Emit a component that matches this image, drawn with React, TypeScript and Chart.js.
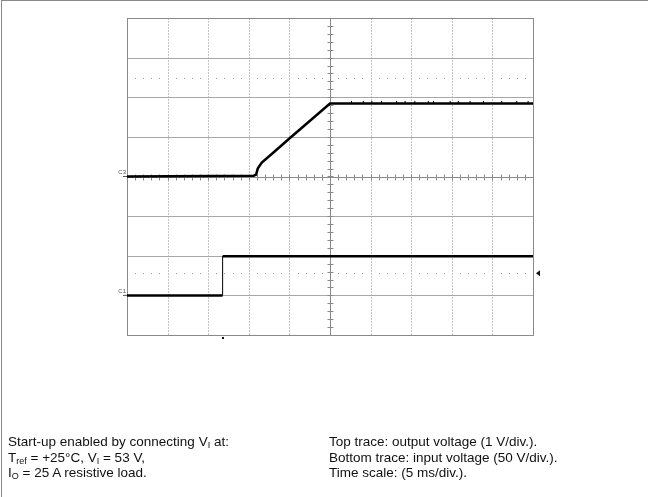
import React, { useEffect, useRef } from "react";
import { Chart, registerables } from "chart.js";

Chart.register(...registerables);

// Time axis in divisions (5 ms/div), vertical axis in divisions
const X_DIVS = 10;
const Y_DIVS = 8;

// Top trace (C3): output voltage, 1 V/div
const topTime = [0, 3.12, 3.18, 3.22, 3.32, 3.6, 4.0, 4.5, 5.0, 10];
const topLevel = [4.0, 4.02, 4.05, 4.2, 4.35, 4.6, 4.96, 5.4, 5.84, 5.84];

// Small noise spikes above the settled output level
const spikeTime = [5.53, 5.82, 6.03, 6.27, 6.64, 6.85, 7.09, 7.42, 7.55, 7.96, 8.16, 8.45, 8.78, 9.23, 9.6, 9.88];
const spikeLevel = 5.87;

// Bottom trace (C1): input voltage, 50 V/div
const bottomTime = [0, 2.355, 2.355, 10];
const bottomLevel = [1.0, 1.0, 1.99, 1.99];

// Dotted reference levels and markers
const refLevels = [6.48, 1.56];
const triggerLevel = 1.56;
const triggerTime = 2.355;
const channelLabels = [
  { name: "C3", level: 4.0 },
  { name: "C1", level: 1.0 },
];

const leftNotes = [
  ["Start-up enabled by connecting V", "I", " at:"],
  ["T", "ref", " = +25°C, V", "I", " = 53 V,"],
  ["I", "O", " = 25 A resistive load."],
];
const rightNotes = [
  "Top trace: output voltage (1 V/div.).",
  "Bottom trace: input voltage (50 V/div.).",
  "Time scale: (5 ms/div.).",
];

const scopePlugin = {
  id: "scopeGrid",
  beforeDatasetsDraw(chart: any) {
    const { ctx, chartArea: a, scales } = chart;
    const xs = scales.x;
    const ys = scales.y;
    const px = (v: number) => Math.round(xs.getPixelForValue(v)) + 0.5;
    const py = (v: number) => Math.round(ys.getPixelForValue(v)) + 0.5;
    ctx.save();
    ctx.lineWidth = 1;
    // vertical grid lines (dotted)
    ctx.strokeStyle = "#c4c4c4";
    ctx.setLineDash([2, 1]);
    for (let i = 1; i < X_DIVS; i++) {
      if (i === X_DIVS / 2) continue;
      ctx.beginPath();
      ctx.moveTo(px(i), a.top);
      ctx.lineTo(px(i), a.bottom);
      ctx.stroke();
    }
    ctx.setLineDash([]);
    // horizontal grid lines (solid)
    ctx.strokeStyle = "#a8a8a8";
    for (let i = 1; i < Y_DIVS; i++) {
      if (i === Y_DIVS / 2) continue;
      ctx.beginPath();
      ctx.moveTo(a.left, py(i));
      ctx.lineTo(a.right, py(i));
      ctx.stroke();
    }
    // dotted reference levels
    ctx.fillStyle = "#9a9a9a";
    for (const lv of refLevels) {
      const y = Math.round(ys.getPixelForValue(lv));
      for (let t = 0.2; t < X_DIVS; t += 0.2) {
        if (Math.abs(t - Math.round(t)) < 0.01) continue;
        const x = Math.round(xs.getPixelForValue(t));
        ctx.fillRect(x, y, 1, 1);
      }
    }
    // center axes with minor ticks
    ctx.strokeStyle = "#8a8a8a";
    const cx = px(X_DIVS / 2);
    const cy = py(Y_DIVS / 2);
    ctx.beginPath();
    ctx.moveTo(cx, a.top);
    ctx.lineTo(cx, a.bottom);
    ctx.moveTo(a.left, cy);
    ctx.lineTo(a.right, cy);
    for (let t = 0.2; t < Y_DIVS; t += 0.2) {
      const y = py(t);
      ctx.moveTo(cx - 3, y);
      ctx.lineTo(cx + 3, y);
    }
    for (let t = 0.2; t < X_DIVS; t += 0.2) {
      const x = px(t);
      ctx.moveTo(x, cy - 3);
      ctx.lineTo(x, cy + 3);
    }
    ctx.stroke();
    // frame
    ctx.strokeStyle = "#8a8a8a";
    ctx.strokeRect(Math.round(a.left) + 0.5, Math.round(a.top) + 0.5, Math.round(a.right - a.left), Math.round(a.bottom - a.top));
    // trigger level arrow
    ctx.fillStyle = "#111";
    const ty = ys.getPixelForValue(triggerLevel);
    ctx.beginPath();
    ctx.moveTo(a.right + 3, ty);
    ctx.lineTo(a.right + 7, ty - 3);
    ctx.lineTo(a.right + 7, ty + 3);
    ctx.closePath();
    ctx.fill();
    // trigger position marker
    const tx = Math.round(xs.getPixelForValue(triggerTime));
    ctx.fillRect(tx - 1, a.bottom + 2, 2, 2);
    // channel labels
    ctx.fillStyle = "#555";
    ctx.font = "6px 'Liberation Sans', Arial, sans-serif";
    ctx.textAlign = "right";
    ctx.textBaseline = "bottom";
    for (const c of channelLabels) {
      const y = ys.getPixelForValue(c.level);
      ctx.fillText(c.name, a.left - 1, y - 1);
      ctx.fillRect(a.left - 4, y - 0.5, 4, 1);
    }
    ctx.restore();
  },
};

export default function App() {
  const ref = useRef<HTMLCanvasElement>(null);
  useEffect(() => {
    if (!ref.current) return;
    const thinVertical = {
      borderWidth: (c: any) => (Math.abs(c.p0.parsed.x - c.p1.parsed.x) < 1e-6 ? 1 : undefined),
    };
    const chart = new Chart(ref.current, {
      type: "line",
      data: {
        datasets: [
          {
            data: topTime.map((t, i) => ({ x: t, y: topLevel[i] })),
            borderColor: "#000",
            borderWidth: 2.5,
            pointRadius: 0,
            tension: 0,
          },
          {
            data: bottomTime.map((t, i) => ({ x: t, y: bottomLevel[i] })),
            borderColor: "#000",
            borderWidth: 2.5,
            pointRadius: 0,
            tension: 0,
            segment: thinVertical,
          } as any,
          {
            data: spikeTime.map((t) => ({ x: t, y: spikeLevel })),
            showLine: false,
            pointStyle: "line",
            rotation: 90,
            pointRadius: 1.5,
            borderColor: "#000",
            borderWidth: 1,
          } as any,
        ],
      },
      options: {
        responsive: false,
        animation: false,
        layout: { padding: { left: 127, right: 115, top: 18, bottom: 162 } },
        plugins: { legend: { display: false }, tooltip: { enabled: false } },
        scales: {
          x: { type: "linear", min: 0, max: X_DIVS, display: false },
          y: { type: "linear", min: 0, max: Y_DIVS, display: false },
        },
      },
      plugins: [scopePlugin],
    });
    return () => chart.destroy();
  }, []);

  const textStyle: React.CSSProperties = {
    position: "absolute",
    fontFamily: "'Liberation Sans', Arial, sans-serif",
    fontSize: 13.5,
    lineHeight: "15.5px",
    color: "#111",
    whiteSpace: "nowrap",
  };
  const subStyle: React.CSSProperties = { fontSize: 9, verticalAlign: "-2px", lineHeight: 0 };

  return (
    <div style={{ position: "fixed", left: 0, top: 0, width: 648, height: 497, background: "#fff" }}>
      <canvas ref={ref} width={648} height={497} style={{ position: "absolute", left: 0, top: 0 }} />
      <div style={{ position: "absolute", left: 1, top: 0, right: 0, bottom: 0, borderTop: "1px solid #8a8a8a", borderLeft: "1px solid #8a8a8a", pointerEvents: "none" }} />
      <div style={{ ...textStyle, left: 8, top: 434 }}>
        {leftNotes.map((parts, i) => (
          <div key={i}>
            {parts.map((p, j) => (j % 2 === 1 ? <span key={j} style={subStyle}>{p}</span> : <span key={j}>{p}</span>))}
          </div>
        ))}
      </div>
      <div style={{ ...textStyle, left: 329, top: 434 }}>
        {rightNotes.map((s, i) => (
          <div key={i}>{s}</div>
        ))}
      </div>
    </div>
  );
}
